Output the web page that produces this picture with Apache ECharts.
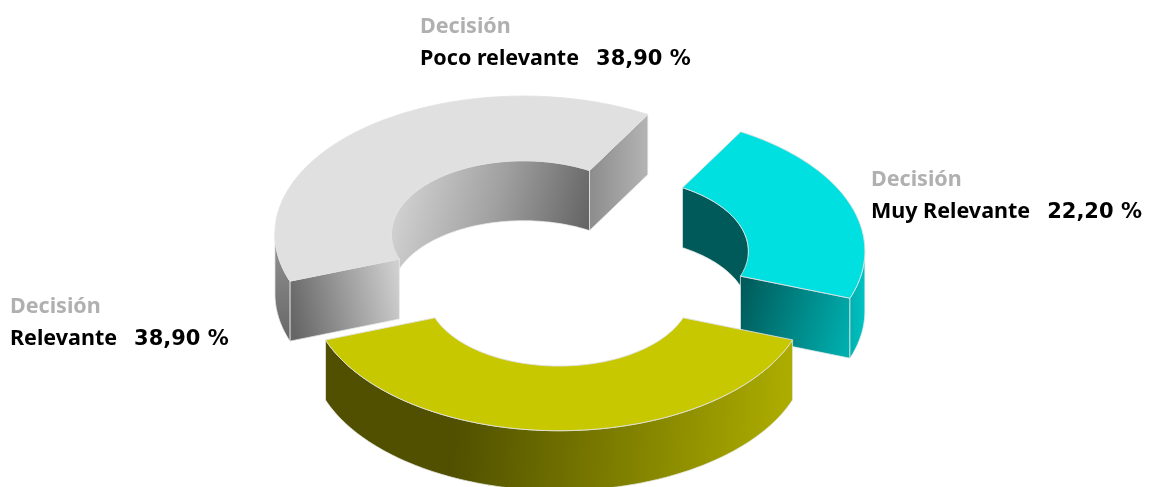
<!DOCTYPE html>
<html>
<head>
<meta charset="utf-8">
<title>Decisión</title>
<style>html,body{margin:0;padding:0;background:#fff;overflow:hidden}#chart{width:1150px;height:487px}</style>
<script src="https://cdn.jsdelivr.net/npm/echarts@6/dist/echarts.min.js"></script>
</head>
<body>
<div id="chart"></div>
<script>
// Ring segments, listed back to front
const categories = ['Poco relevante', 'Muy Relevante', 'Relevante'];
const shares = [38.9, 22.2, 38.9];
const groupTitle = 'Decisión';

// Projection of the tilted ring
const START_ANGLE = 160;
const CENTER = [559, 259.5];
const R_OUTER = 248.5;
const R_INNER = 132;
const TILT = 0.555;
const EXPLODE = 60;
const DEPTH = 60;
const segmentNudge = [[3, 0], [1, 3], [0, 0]];

// Text layout: baseline of each title, and the fonts for each part
const labelAnchors = [[420, 33], [871, 186], [10, 313]];
const LINE_GAP = 32;
const TITLE_FONT = 'bold 21.5px "Noto Sans"';
const NAME_FONT = 'bold 21.5px "Noto Sans"';
const VALUE_FONT = 'bold 21px "DejaVu Sans"';
const NAME_VALUE_GAP = 17;
const VALUE_BASELINE_SHIFT = 1.5;

const grad = (x0, y0, x1, y1, stops) => new echarts.graphic.LinearGradient(
  x0, y0, x1, y1, stops.map((c, i) => typeof c === 'string'
    ? { offset: i / (stops.length - 1), color: c } : c));

// Shading of each segment: flat top plus one gradient per visible wall
const skins = [
  {
    top: '#e0e0e0',
    outer: grad(0, 0, 1, 1, ['#949494', '#666666']),
    inner: grad(0, 0.3, 1, 0.7, ['#d4d4d4', '#a0a0a0', '#5e5e5e']),
    startFace: grad(0, 0.6, 1, 0.3, ['#666666', '#cfcfcf']),
    endFace: grad(0, 0.5, 1, 0.5, ['#8c8c8c', '#b4b4b4'])
  },
  {
    top: '#00e0e0',
    outer: grad(0, 0, 1, 0, ['#00b0b0', '#00c4c4']),
    inner: '#005a5a',
    startFace: '#005a5a',
    endFace: grad(0, 0.3, 1, 0.7, ['#005c5c', '#00aeae'])
  },
  {
    top: '#c8c800',
    outer: grad(0, 0.4, 1, 0.6, [
      { offset: 0, color: '#505000' }, { offset: 0.28, color: '#505000' },
      { offset: 1, color: '#aeae00' }]),
    inner: '#505000',
    startFace: '#505000',
    endFace: '#505000'
  }
];

const sum = shares.reduce((a, b) => a + b, 0);
const rad = (d) => d * Math.PI / 180;
const measure = document.createElement('canvas').getContext('2d');
function textWidth(text, font) {
  measure.font = font;
  return measure.measureText(text).width;
}

function point(c, r, deg, drop) {
  return [c[0] + r * Math.cos(rad(deg)), c[1] + r * TILT * Math.sin(rad(deg)) + (drop || 0)];
}
function arc(c, r, from, to, drop) {
  const steps = Math.max(2, Math.ceil(Math.abs(to - from)));
  const pts = [];
  for (let i = 0; i <= steps; i++) pts.push(point(c, r, from + (to - from) * i / steps, drop));
  return pts;
}
function face(points, fill, stroke) {
  return {
    type: 'polygon',
    shape: { points },
    style: { fill, stroke: stroke || 'rgba(235,235,235,0.75)', lineWidth: 1, lineJoin: 'round' }
  };
}
// Wall of the ring over [from, to], extruded down by DEPTH
function wall(c, r, from, to, fill) {
  return face(arc(c, r, from, to).concat(arc(c, r, to, from, DEPTH)), fill);
}
// Parts of [a0, a1] where sin has the requested sign
function visibleSpans(a0, a1, positive) {
  const spans = [];
  for (let k = -1; k < 4; k++) {
    const lo = (positive ? 0 : 180) + 360 * k;
    const from = Math.max(a0, lo), to = Math.min(a1, lo + 180);
    if (to > from) spans.push([from, to]);
  }
  return spans;
}
function label(x, baseline, text, fill, font) {
  return {
    type: 'text', x, y: baseline - 17,
    style: { text, fill, font, verticalAlign: 'top' }
  };
}

function renderSegment(params, api) {
  const i = params.dataIndex;
  let before = 0;
  for (let k = 0; k < i; k++) before += shares[k];
  const value = api.value(0);
  const a0 = START_ANGLE + before / sum * 360;
  const a1 = a0 + value / sum * 360;
  const mid = (a0 + a1) / 2;
  const base = point(CENTER, EXPLODE, mid);
  const c = [base[0] + segmentNudge[i][0], base[1] + segmentNudge[i][1]];
  const skin = skins[i];
  const children = [];

  visibleSpans(a0, a1, false).forEach(s => children.push(wall(c, R_INNER, s[0], s[1], skin.inner)));
  if (Math.cos(rad(a0)) < 0) {
    children.push(face([point(c, R_INNER, a0), point(c, R_OUTER, a0),
      point(c, R_OUTER, a0, DEPTH), point(c, R_INNER, a0, DEPTH)], skin.startFace));
  }
  if (Math.cos(rad(a1)) > 0) {
    children.push(face([point(c, R_INNER, a1), point(c, R_OUTER, a1),
      point(c, R_OUTER, a1, DEPTH), point(c, R_INNER, a1, DEPTH)], skin.endFace));
  }
  visibleSpans(a0, a1, true).forEach(s => children.push(wall(c, R_OUTER, s[0], s[1], skin.outer)));
  children.push(face(arc(c, R_OUTER, a0, a1).concat(arc(c, R_INNER, a1, a0)), skin.top, 'rgba(225,225,225,0.9)'));

  const anchor = labelAnchors[i];
  const nameWidth = textWidth(categories[i], NAME_FONT);
  children.push(label(anchor[0], anchor[1], groupTitle, '#b0b0b0', TITLE_FONT));
  children.push(label(anchor[0], anchor[1] + LINE_GAP, categories[i], '#000000', NAME_FONT));
  children.push(label(anchor[0] + nameWidth + NAME_VALUE_GAP, anchor[1] + LINE_GAP + VALUE_BASELINE_SHIFT,
    value.toFixed(2).replace('.', ',') + ' %', '#000000', VALUE_FONT));
  return { type: 'group', children };
}

const chart = echarts.init(document.getElementById('chart'), null, { renderer: 'canvas' });
chart.setOption({
  animation: false,
  backgroundColor: '#ffffff',
  series: [{
    type: 'custom',
    coordinateSystem: 'none',
    silent: true,
    data: shares.map(v => [v]),
    renderItem: renderSegment
  }]
});
</script>
</body>
</html>
